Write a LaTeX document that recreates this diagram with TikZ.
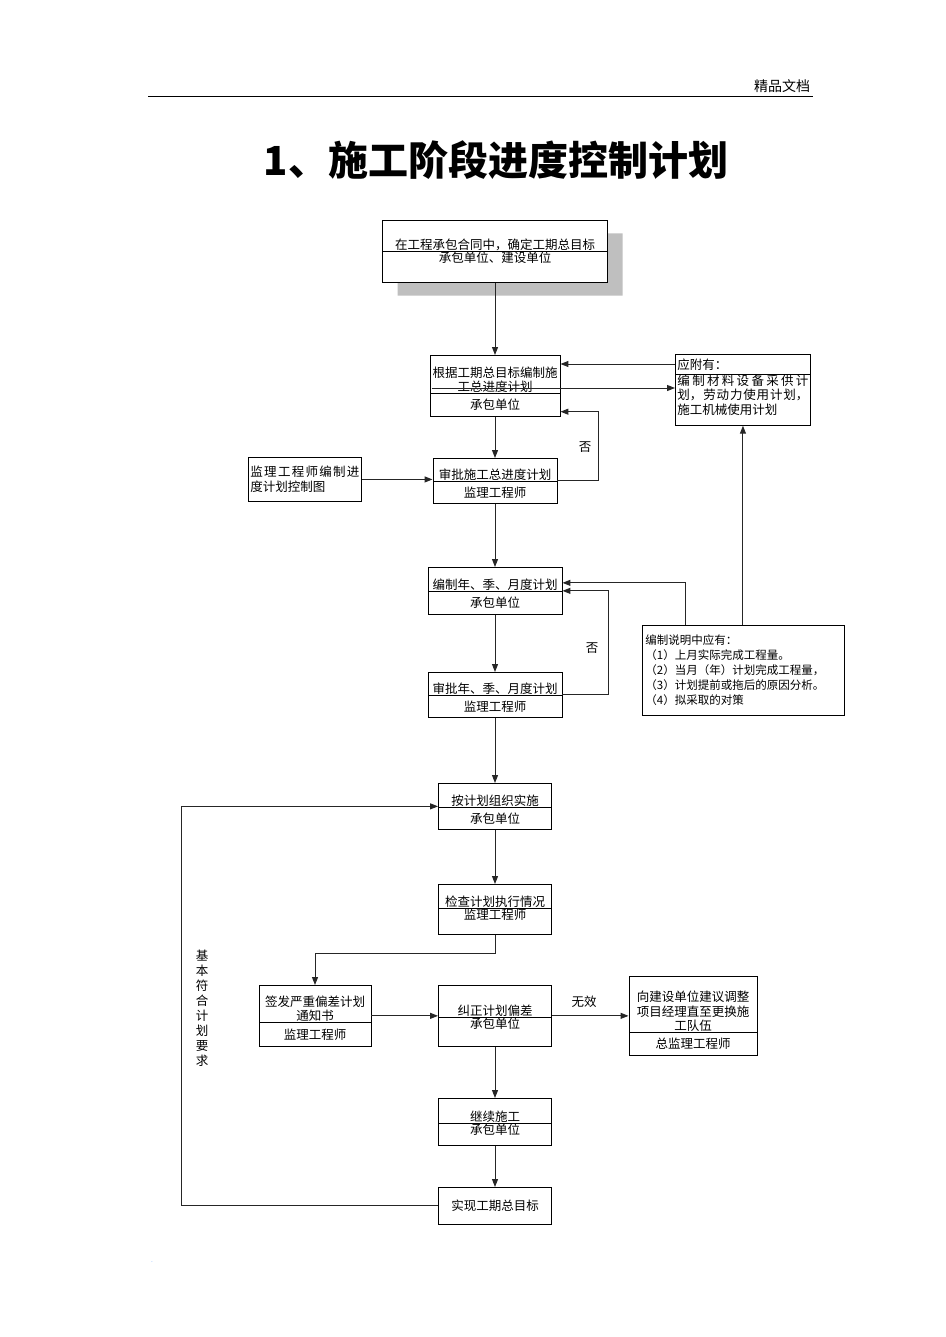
\documentclass[tikz,border=0pt]{standalone}
\usepackage{fontspec}
\setmainfont{Noto Sans CJK SC}
\usetikzlibrary{arrows.meta,positioning,calc,shapes.multipart,shadows}
\newcommand{\boxpart}[4][\centering]{\parbox[c][#2][#3]{\linewidth}{#1#4}}
\newcommand{\spreadline}[1]{{\spaceskip=0.01pt plus 1fil\makebox[\linewidth][s]{#1}}}

\begin{document}
\begin{tikzpicture}[x=1pt, y=-1pt, >={Triangle[length=8pt,width=6pt]},
  B/.style={rectangle split, rectangle split parts=2, draw, line width=0.9pt,
            fill=white, inner xsep=2pt, inner ysep=0pt, anchor=north,
            font=\fontsize{12.5}{14.5}\selectfont},
  T/.style={draw, line width=0.9pt, fill=white, inner xsep=2pt, inner ysep=0pt,
            font=\fontsize{12.5}{14.5}\selectfont},
  lbl/.style={inner sep=0pt, font=\fontsize{12.5}{15}\selectfont},
  link/.style={->, draw=black!85, line width=1pt}]
\useasboundingbox (0,0) rectangle (945,1337);

% page head
\node[font=\fontsize{14}{16}\selectfont] (hdr) at (782,86) {精品文档};
\draw[line width=0.8pt] (148,96) -- (813,96);
\node[font=\fontsize{40}{42}\selectfont\bfseries] (title) at (496,160) {1、施工阶段进度控制计划};

% main column
\node[B, text width=221pt, drop shadow={shadow xshift=15pt, shadow yshift=-13pt, fill=black!25, opacity=1}] (goal) at (495,220)
  {\boxpart{29pt}{b}{在工程承包合同中，确定工期总目标}\nodepart{two}\boxpart{30pt}{t}{承包单位、建设单位}};
\node[B, text width=126pt] (draft) at (495,355)
  {\boxpart{36pt}{b}{根据工期总目标编制施\\工总进度计划}\nodepart{two}\boxpart{22pt}{c}{承包单位}};
\node[B, text width=120pt] (approve) at (495,458)
  {\boxpart{21pt}{b}{审批施工总进度计划}\nodepart{two}\boxpart{21pt}{c}{监理工程师}};
\node[B, text width=130pt] (plan) at (495,567)
  {\boxpart{22pt}{b}{编制年、季、月度计划}\nodepart{two}\boxpart{22pt}{c}{承包单位}};
\node[B, text width=130pt] (check) at (495,672)
  {\boxpart{21pt}{b}{审批年、季、月度计划}\nodepart{two}\boxpart{21pt}{c}{监理工程师}};
\node[B, text width=109pt] (exec) at (495,783)
  {\boxpart{22pt}{b}{按计划组织实施}\nodepart{two}\boxpart{21pt}{c}{承包单位}};
\node[B, text width=109pt] (inspect) at (495,884)
  {\boxpart{22pt}{b}{检查计划执行情况}\nodepart{two}\boxpart{25pt}{t}{监理工程师}};
\node[B, text width=108pt] (notice) at (315,985)
  {\boxpart{35pt}{b}{签发严重偏差计划\\通知书}\nodepart{two}\boxpart{23pt}{c}{监理工程师}};
\node[B, text width=109pt] (correct) at (495,985)
  {\boxpart{30pt}{b}{纠正计划偏差}\nodepart{two}\boxpart{28pt}{t}{承包单位}};
\node[B, text width=124pt] (report) at (693,976)
  {\boxpart{54pt}{b}{向建设单位建议调整\\项目经理直至更换施\\工队伍}\nodepart{two}\boxpart{22pt}{c}{总监理工程师}};
\node[B, text width=109pt] (cont) at (495,1098)
  {\boxpart{23pt}{b}{继续施工}\nodepart{two}\boxpart{21pt}{t}{承包单位}};
\node[T, minimum width=113pt, minimum height=37pt, anchor=north] (done) at (495,1187) {实现工期总目标};

% side boxes
\node[T, minimum width=113pt, minimum height=44pt, text width=109pt, anchor=north west, align=left] (chart) at (248,457)
  {\spreadline{监 理 工 程 师 编 制 进}\\度计划控制图};
\node[B, text width=131pt, anchor=north west] (attach) at (675,354)
  {\boxpart[\raggedright]{19pt}{c}{应附有：}\nodepart{two}\boxpart[\raggedright]{50pt}{t}{%
   \spreadline{编 制 材 料 设 备 采 供 计}\\
   \spreadline{划， 劳 动 力 使 用 计 划，}\\施工机械使用计划}};
\node[T, minimum width=202pt, minimum height=90pt, text width=196pt, anchor=north west, align=left,
      font=\fontsize{11.5}{15}\selectfont] (notes) at (642,625)
  {编制说明中应有：\\（1）上月实际完成工程量。\\（2）当月（年）计划完成工程量，\\（3）计划提前或拖后的原因分析。\\（4）拟采取的对策};

% labels
\node[lbl] (no1) at (585,447) {否};
\node[lbl] (no2) at (592,648) {否};
\node[lbl] (fail) at (584,1002) {无效};
\node[lbl, align=center] (okay) at (202,1008) {基\\本\\符\\合\\计\\划\\要\\求};
\node[font=\tiny, text=blue!60!cyan] (mark) at (152,1262) {.};

% connectors
\draw[link] (goal.south) -- (draft.north);
\draw[link] ($(attach.north west)+(0,10)$) -- ($(draft.north east)+(0,9)$);
\draw[link] ($(draft.north west)+(2,33)$) -- ($(attach.north west)+(0,34)$);
\draw[link] (draft.south) -- (approve.north);
\draw[link] (approve.east) -- ++(41,0) |- ($(draft.south east)+(0,-5)$);
\draw[link] (chart.east) -- (chart.east -| approve.west);
\draw[link] (approve.south) -- (plan.north);
\draw[link] (plan.south) -- (check.north);
\draw[link] ($(notes.north west)+(43,0)$) |- ($(plan.east)+(0,-8)$);
\draw[link] (check.east) -- ++(46,0) |- (plan.east);
\draw[link] (notes.north -| attach.south) -- (attach.south);
\draw[link] (check.south) -- (exec.north);
\draw[link] (exec.south) -- (inspect.north);
\draw[link] (inspect.south) -- ++(0,19) -| (notice.north);
\draw[link] (notice.east) -- (notice.east -| correct.west);
\draw[link] (correct.east) -- (correct.east -| report.west);
\draw[link] (correct.south) -- (cont.north);
\draw[link] (cont.south) -- (done.north);
\draw[link] (done.west) -- ++(-257,0) |- (exec.west);
\end{tikzpicture}
\end{document}
